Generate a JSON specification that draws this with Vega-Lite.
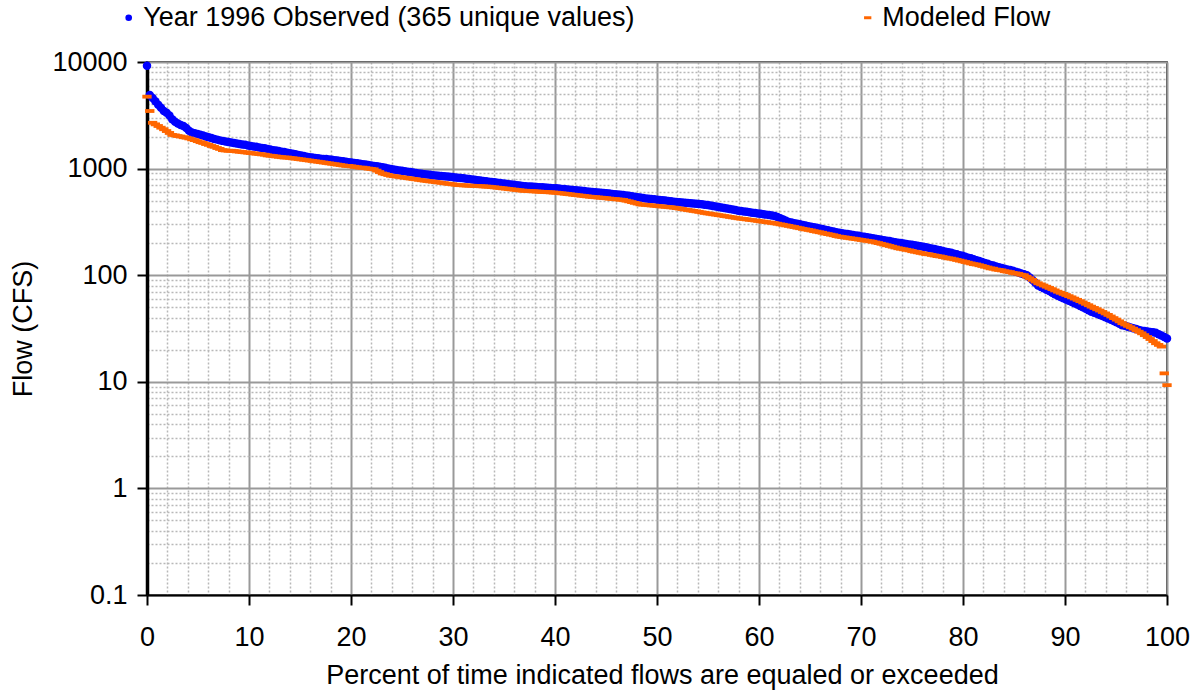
{
  "$schema": "https://vega.github.io/schema/vega-lite/v6.json",
  "width": 1020,
  "height": 533,
  "autosize": {"type": "none"},
  "padding": {"left": 147, "top": 62, "right": 29, "bottom": 99},
  "background": "#ffffff",
  "config": {
    "font": "Liberation Sans",
    "view": {"stroke": "#000000", "strokeWidth": 1.5}
  },
  "data": {"values": [
{"p":0,"o":9230,"m":4730},{"p":0.27,"o":4900,"m":3470},{"p":0.55,"o":4590,"m":2690},{"p":0.82,"o":4290,"m":2600},{"p":1.10,"o":3980,"m":2510},
{"p":1.37,"o":3720,"m":2420},{"p":1.65,"o":3470,"m":2340},{"p":1.92,"o":3350,"m":2250},{"p":2.20,"o":3150,"m":2160},{"p":2.47,"o":2900,"m":2070},
{"p":2.75,"o":2750,"m":2050},{"p":3.02,"o":2650,"m":2020},{"p":3.30,"o":2570,"m":2000},{"p":3.57,"o":2510,"m":1970},{"p":3.85,"o":2400,"m":1950},
{"p":4.12,"o":2260,"m":1920},{"p":4.40,"o":2180,"m":1880},{"p":4.67,"o":2150,"m":1850},{"p":4.95,"o":2110,"m":1810},{"p":5.22,"o":2080,"m":1770},
{"p":5.49,"o":2040,"m":1740},{"p":5.77,"o":2000,"m":1700},{"p":6.04,"o":1970,"m":1670},{"p":6.32,"o":1940,"m":1630},{"p":6.59,"o":1900,"m":1600},
{"p":6.87,"o":1870,"m":1560},{"p":7.14,"o":1840,"m":1530},{"p":7.42,"o":1820,"m":1490},{"p":7.69,"o":1800,"m":1480},{"p":7.97,"o":1780,"m":1470},
{"p":8.24,"o":1760,"m":1470},{"p":8.52,"o":1740,"m":1460},{"p":8.79,"o":1720,"m":1450},{"p":9.07,"o":1700,"m":1440},{"p":9.34,"o":1680,"m":1430},
{"p":9.62,"o":1670,"m":1420},{"p":9.89,"o":1650,"m":1410},{"p":10.16,"o":1630,"m":1400},{"p":10.44,"o":1610,"m":1390},{"p":10.71,"o":1600,"m":1380},
{"p":10.99,"o":1580,"m":1370},{"p":11.26,"o":1560,"m":1360},{"p":11.54,"o":1550,"m":1350},{"p":11.81,"o":1530,"m":1330},{"p":12.09,"o":1510,"m":1320},
{"p":12.36,"o":1490,"m":1310},{"p":12.64,"o":1480,"m":1300},{"p":12.91,"o":1460,"m":1290},{"p":13.19,"o":1440,"m":1280},{"p":13.46,"o":1430,"m":1270},
{"p":13.74,"o":1410,"m":1270},{"p":14.01,"o":1390,"m":1260},{"p":14.29,"o":1380,"m":1250},{"p":14.56,"o":1360,"m":1240},{"p":14.84,"o":1340,"m":1230},
{"p":15.11,"o":1330,"m":1220},{"p":15.38,"o":1310,"m":1210},{"p":15.66,"o":1290,"m":1200},{"p":15.93,"o":1280,"m":1190},{"p":16.21,"o":1270,"m":1180},
{"p":16.48,"o":1260,"m":1170},{"p":16.76,"o":1250,"m":1160},{"p":17.03,"o":1240,"m":1150},{"p":17.31,"o":1230,"m":1140},{"p":17.58,"o":1230,"m":1130},
{"p":17.86,"o":1220,"m":1120},{"p":18.13,"o":1210,"m":1110},{"p":18.41,"o":1200,"m":1100},{"p":18.68,"o":1190,"m":1090},{"p":18.96,"o":1180,"m":1080},
{"p":19.23,"o":1170,"m":1070},{"p":19.51,"o":1160,"m":1060},{"p":19.78,"o":1150,"m":1060},{"p":20.05,"o":1140,"m":1050},{"p":20.33,"o":1130,"m":1040},
{"p":20.60,"o":1120,"m":1030},{"p":20.88,"o":1110,"m":1020},{"p":21.15,"o":1100,"m":1020},{"p":21.43,"o":1090,"m":1010},{"p":21.70,"o":1080,"m":1000},
{"p":21.98,"o":1070,"m":993},{"p":22.25,"o":1060,"m":985},{"p":22.53,"o":1050,"m":957},{"p":22.80,"o":1040,"m":928},{"p":23.08,"o":1030,"m":900},
{"p":23.35,"o":1020,"m":886},{"p":23.63,"o":1000,"m":871},{"p":23.90,"o":990,"m":857},{"p":24.18,"o":980,"m":850},{"p":24.45,"o":971,"m":843},
{"p":24.73,"o":962,"m":836},{"p":25.00,"o":954,"m":828},{"p":25.27,"o":945,"m":821},{"p":25.55,"o":936,"m":814},{"p":25.82,"o":928,"m":807},
{"p":26.10,"o":919,"m":800},{"p":26.37,"o":910,"m":793},{"p":26.65,"o":901,"m":785},{"p":26.92,"o":893,"m":778},{"p":27.20,"o":884,"m":771},
{"p":27.47,"o":879,"m":765},{"p":27.75,"o":874,"m":759},{"p":28.02,"o":868,"m":754},{"p":28.30,"o":863,"m":748},{"p":28.57,"o":858,"m":742},
{"p":28.85,"o":853,"m":736},{"p":29.12,"o":848,"m":730},{"p":29.40,"o":843,"m":724},{"p":29.67,"o":837,"m":719},{"p":29.95,"o":832,"m":713},
{"p":30.22,"o":827,"m":707},{"p":30.49,"o":822,"m":701},{"p":30.77,"o":816,"m":699},{"p":31.04,"o":810,"m":696},{"p":31.32,"o":803,"m":694},
{"p":31.59,"o":797,"m":692},{"p":31.87,"o":791,"m":690},{"p":32.14,"o":785,"m":687},{"p":32.42,"o":779,"m":685},{"p":32.69,"o":773,"m":683},
{"p":32.97,"o":766,"m":681},{"p":33.24,"o":760,"m":678},{"p":33.52,"o":754,"m":676},{"p":33.79,"o":748,"m":671},{"p":34.07,"o":743,"m":667},
{"p":34.34,"o":737,"m":662},{"p":34.62,"o":732,"m":658},{"p":34.89,"o":726,"m":653},{"p":35.16,"o":721,"m":649},{"p":35.44,"o":715,"m":644},
{"p":35.71,"o":709,"m":639},{"p":35.99,"o":704,"m":635},{"p":36.26,"o":698,"m":630},{"p":36.54,"o":693,"m":626},{"p":36.81,"o":687,"m":621},
{"p":37.09,"o":684,"m":619},{"p":37.36,"o":681,"m":617},{"p":37.64,"o":679,"m":614},{"p":37.91,"o":676,"m":612},{"p":38.19,"o":673,"m":610},
{"p":38.46,"o":670,"m":608},{"p":38.74,"o":667,"m":605},{"p":39.01,"o":664,"m":603},{"p":39.29,"o":662,"m":601},{"p":39.56,"o":659,"m":599},
{"p":39.84,"o":656,"m":596},{"p":40.11,"o":653,"m":594},{"p":40.38,"o":649,"m":590},{"p":40.66,"o":645,"m":586},{"p":40.93,"o":642,"m":582},
{"p":41.21,"o":638,"m":578},{"p":41.48,"o":634,"m":574},{"p":41.76,"o":630,"m":569},{"p":42.03,"o":626,"m":565},{"p":42.31,"o":622,"m":561},
{"p":42.58,"o":619,"m":557},{"p":42.86,"o":615,"m":553},{"p":43.13,"o":611,"m":549},{"p":43.41,"o":607,"m":545},{"p":43.68,"o":604,"m":542},
{"p":43.96,"o":600,"m":539},{"p":44.23,"o":597,"m":536},{"p":44.51,"o":593,"m":533},{"p":44.78,"o":590,"m":530},{"p":45.05,"o":586,"m":527},
{"p":45.33,"o":583,"m":523},{"p":45.60,"o":579,"m":520},{"p":45.88,"o":576,"m":517},{"p":46.15,"o":572,"m":514},{"p":46.43,"o":569,"m":511},
{"p":46.70,"o":565,"m":508},{"p":46.98,"o":560,"m":500},{"p":47.25,"o":555,"m":493},{"p":47.53,"o":550,"m":485},{"p":47.80,"o":545,"m":477},
{"p":48.08,"o":540,"m":470},{"p":48.35,"o":535,"m":462},{"p":48.63,"o":530,"m":459},{"p":48.90,"o":525,"m":457},{"p":49.18,"o":522,"m":454},
{"p":49.45,"o":518,"m":451},{"p":49.73,"o":515,"m":449},{"p":50.00,"o":511,"m":446},{"p":50.27,"o":508,"m":443},{"p":50.55,"o":504,"m":441},
{"p":50.82,"o":501,"m":438},{"p":51.10,"o":497,"m":435},{"p":51.37,"o":494,"m":433},{"p":51.65,"o":490,"m":430},{"p":51.92,"o":487,"m":426},
{"p":52.20,"o":484,"m":422},{"p":52.47,"o":482,"m":418},{"p":52.75,"o":479,"m":413},{"p":53.02,"o":476,"m":409},{"p":53.30,"o":473,"m":405},
{"p":53.57,"o":470,"m":401},{"p":53.85,"o":467,"m":397},{"p":54.12,"o":465,"m":393},{"p":54.40,"o":462,"m":388},{"p":54.67,"o":459,"m":384},
{"p":54.95,"o":456,"m":380},{"p":55.22,"o":451,"m":377},{"p":55.49,"o":446,"m":373},{"p":55.77,"o":442,"m":370},{"p":56.04,"o":437,"m":366},
{"p":56.32,"o":432,"m":363},{"p":56.59,"o":427,"m":359},{"p":56.87,"o":422,"m":356},{"p":57.14,"o":417,"m":352},{"p":57.42,"o":413,"m":349},
{"p":57.69,"o":408,"m":345},{"p":57.97,"o":403,"m":342},{"p":58.24,"o":400,"m":339},{"p":58.52,"o":396,"m":337},{"p":58.79,"o":393,"m":334},
{"p":59.07,"o":390,"m":331},{"p":59.34,"o":386,"m":329},{"p":59.62,"o":383,"m":326},{"p":59.89,"o":380,"m":323},{"p":60.16,"o":377,"m":320},
{"p":60.44,"o":373,"m":318},{"p":60.71,"o":370,"m":315},{"p":60.99,"o":367,"m":312},{"p":61.26,"o":363,"m":310},{"p":61.54,"o":360,"m":307},
{"p":61.81,"o":351,"m":304},{"p":62.09,"o":342,"m":300},{"p":62.36,"o":334,"m":297},{"p":62.64,"o":325,"m":293},{"p":62.91,"o":316,"m":290},
{"p":63.19,"o":312,"m":286},{"p":63.46,"o":308,"m":283},{"p":63.74,"o":304,"m":279},{"p":64.01,"o":300,"m":276},{"p":64.29,"o":296,"m":272},
{"p":64.56,"o":292,"m":269},{"p":64.84,"o":288,"m":266},{"p":65.11,"o":285,"m":263},{"p":65.38,"o":281,"m":259},{"p":65.66,"o":278,"m":256},
{"p":65.93,"o":274,"m":253},{"p":66.21,"o":271,"m":250},{"p":66.48,"o":267,"m":246},{"p":66.76,"o":264,"m":243},{"p":67.03,"o":260,"m":240},
{"p":67.31,"o":257,"m":237},{"p":67.58,"o":253,"m":233},{"p":67.86,"o":250,"m":230},{"p":68.13,"o":248,"m":228},{"p":68.41,"o":245,"m":226},
{"p":68.68,"o":243,"m":224},{"p":68.96,"o":241,"m":222},{"p":69.23,"o":238,"m":220},{"p":69.51,"o":236,"m":218},{"p":69.78,"o":234,"m":216},
{"p":70.05,"o":231,"m":214},{"p":70.33,"o":229,"m":212},{"p":70.60,"o":227,"m":210},{"p":70.88,"o":224,"m":208},{"p":71.15,"o":222,"m":206},
{"p":71.43,"o":220,"m":203},{"p":71.70,"o":218,"m":200},{"p":71.98,"o":215,"m":197},{"p":72.25,"o":213,"m":194},{"p":72.53,"o":211,"m":191},
{"p":72.80,"o":209,"m":188},{"p":73.08,"o":206,"m":185},{"p":73.35,"o":204,"m":182},{"p":73.63,"o":202,"m":179},{"p":73.90,"o":200,"m":177},
{"p":74.18,"o":198,"m":175},{"p":74.45,"o":196,"m":173},{"p":74.73,"o":194,"m":171},{"p":75.00,"o":193,"m":168},{"p":75.27,"o":191,"m":166},
{"p":75.55,"o":189,"m":164},{"p":75.82,"o":187,"m":162},{"p":76.10,"o":185,"m":160},{"p":76.37,"o":183,"m":158},{"p":76.65,"o":180,"m":157},
{"p":76.92,"o":178,"m":155},{"p":77.20,"o":176,"m":153},{"p":77.47,"o":173,"m":151},{"p":77.75,"o":171,"m":150},{"p":78.02,"o":169,"m":148},
{"p":78.30,"o":166,"m":146},{"p":78.57,"o":164,"m":144},{"p":78.85,"o":162,"m":143},{"p":79.12,"o":159,"m":141},{"p":79.40,"o":157,"m":139},
{"p":79.67,"o":154,"m":137},{"p":79.95,"o":152,"m":135},{"p":80.22,"o":149,"m":133},{"p":80.49,"o":146,"m":131},{"p":80.77,"o":144,"m":129},
{"p":81.04,"o":141,"m":127},{"p":81.32,"o":138,"m":126},{"p":81.59,"o":136,"m":124},{"p":81.87,"o":133,"m":122},{"p":82.14,"o":130,"m":120},
{"p":82.42,"o":128,"m":118},{"p":82.69,"o":125,"m":116},{"p":82.97,"o":123,"m":115},{"p":83.24,"o":121,"m":113},{"p":83.52,"o":119,"m":112},
{"p":83.79,"o":117,"m":111},{"p":84.07,"o":115,"m":109},{"p":84.34,"o":113,"m":108},{"p":84.62,"o":112,"m":107},{"p":84.89,"o":110,"m":105},
{"p":85.16,"o":108,"m":104},{"p":85.44,"o":106,"m":103},{"p":85.71,"o":104,"m":101},{"p":85.99,"o":102,"m":100},{"p":86.26,"o":100,"m":96.8},
{"p":86.54,"o":95,"m":93.6},{"p":86.81,"o":90,"m":90.4},{"p":87.09,"o":85,"m":87.2},{"p":87.36,"o":80,"m":84},{"p":87.64,"o":77.7,"m":82},
{"p":87.91,"o":75.4,"m":80},{"p":88.19,"o":73.1,"m":78},{"p":88.46,"o":70.9,"m":76},{"p":88.74,"o":68.6,"m":74},{"p":89.01,"o":66.3,"m":72},
{"p":89.29,"o":64,"m":70},{"p":89.56,"o":62.4,"m":68.4},{"p":89.84,"o":60.8,"m":66.8},{"p":90.11,"o":59.3,"m":65.2},{"p":90.38,"o":57.7,"m":63.6},
{"p":90.66,"o":56.1,"m":62},{"p":90.93,"o":54.5,"m":60.3},{"p":91.21,"o":53,"m":58.7},{"p":91.48,"o":51.5,"m":57.1},{"p":91.76,"o":50,"m":55.5},
{"p":92.03,"o":48.5,"m":53.9},{"p":92.31,"o":47,"m":52.3},{"p":92.58,"o":45.5,"m":50.7},{"p":92.86,"o":44.5,"m":49.3},{"p":93.13,"o":43.4,"m":47.9},
{"p":93.41,"o":42.4,"m":46.6},{"p":93.68,"o":41.4,"m":45.2},{"p":93.96,"o":40.3,"m":43.8},{"p":94.23,"o":39.3,"m":42.4},{"p":94.51,"o":38.2,"m":41},
{"p":94.78,"o":37.2,"m":39.6},{"p":95.05,"o":36.1,"m":38.3},{"p":95.33,"o":35.1,"m":36.9},{"p":95.60,"o":34,"m":35.5},{"p":95.88,"o":33.5,"m":34.5},
{"p":96.15,"o":32.9,"m":33.5},{"p":96.43,"o":32.4,"m":32.5},{"p":96.70,"o":31.8,"m":31.5},{"p":96.98,"o":31.3,"m":30.5},{"p":97.25,"o":30.7,"m":29.5},
{"p":97.53,"o":30.2,"m":28.5},{"p":97.80,"o":29.9,"m":27.4},{"p":98.08,"o":29.7,"m":26.3},{"p":98.35,"o":29.4,"m":25.2},{"p":98.63,"o":29.2,"m":24.1},
{"p":98.90,"o":28.9,"m":23},{"p":99.18,"o":28.0,"m":22.2},{"p":99.45,"o":27.2,"m":21.4},{"p":99.73,"o":26.3,"m":12},{"p":100,"o":25.5,"m":9.3}
  ]},
  "encoding": {
    "x": {
      "field": "p",
      "type": "quantitative",
      "scale": {"domain": [0, 100], "nice": false, "zero": false},
      "axis": {
        "values": [0,2,4,6,8,10,12,14,16,18,20,22,24,26,28,30,32,34,36,38,40,42,44,46,48,50,52,54,56,58,60,62,64,66,68,70,72,74,76,78,80,82,84,86,88,90,92,94,96,98,100],
        "title": "Percent of time indicated flows are equaled or exceeded",
        "labelExpr": "datum.value % 10 === 0 ? datum.label : ''",
        "labelOverlap": false,
        "labelFlush": false,
        "grid": true,
        "gridColor": {"condition": {"test": "datum.value % 10 === 0", "value": "#999999"}, "value": "#b8b8b8"},
        "gridDash": {"condition": {"test": "datum.value % 10 === 0", "value": []}, "value": [2, 2]},
        "gridWidth": {"condition": {"test": "datum.value % 10 === 0", "value": 2}, "value": 1.5},
        "tickOpacity": {"condition": {"test": "datum.value % 10 === 0", "value": 1}, "value": 0},
        "tickSize": 10,
        "tickWidth": 2,
        "tickColor": "#000000",
        "domainColor": "#000000",
        "domainWidth": 2,
        "labelFontSize": 27,
        "labelColor": "#000000",
        "labelBaseline": "alphabetic",
        "labelPadding": 40,
        "titleFontSize": 27,
        "titleFontWeight": "normal",
        "titleColor": "#000000",
        "titleX": 515,
        "titleY": 88,
        "titleBaseline": "alphabetic"
      }
    }
  },
  "layer": [
    {
      "mark": {"type": "point", "filled": true, "size": 72, "opacity": 1, "strokeWidth": 0},
      "encoding": {
        "y": {
          "field": "o",
          "type": "quantitative",
          "scale": {"type": "log", "domain": [0.1, 10000], "nice": false},
          "axis": {
            "values": [0.1,0.2,0.3,0.4,0.5,0.6,0.7,0.8,0.9,1,2,3,4,5,6,7,8,9,10,20,30,40,50,60,70,80,90,100,200,300,400,500,600,700,800,900,1000,2000,3000,4000,5000,6000,7000,8000,9000,10000],
            "title": "Flow (CFS)",
            "labelExpr": "indexof([0.1,1,10,100,1000,10000], datum.value) >= 0 ? format(datum.value, '~g') : ''",
            "labelOverlap": false,
            "labelFlush": false,
            "grid": true,
            "gridColor": {"condition": {"test": "indexof([0.1,1,10,100,1000,10000], datum.value) >= 0", "value": "#999999"}, "value": "#b8b8b8"},
            "gridDash": {"condition": {"test": "indexof([0.1,1,10,100,1000,10000], datum.value) >= 0", "value": []}, "value": [2, 2]},
            "gridWidth": {"condition": {"test": "indexof([0.1,1,10,100,1000,10000], datum.value) >= 0", "value": 2}, "value": 1.5},
            "tickOpacity": {"condition": {"test": "indexof([0.1,1,10,100,1000,10000], datum.value) >= 0", "value": 1}, "value": 0},
            "tickSize": 10,
            "tickWidth": 2,
            "tickColor": "#000000",
            "domainColor": "#000000",
            "domainWidth": 3.5,
            "labelFontSize": 27,
            "labelColor": "#000000",
            "labelPadding": 10,
            "titleFontSize": 27,
            "titleFontWeight": "normal",
            "titleColor": "#000000",
            "titleX": -116,
            "titleY": 266.5,
            "titleBaseline": "alphabetic"
          }
        },
        "color": {
          "datum": "Year 1996 Observed (365 unique values)",
          "scale": {"domain": ["Year 1996 Observed (365 unique values)", "Modeled Flow"], "range": ["#0000ff", "#ff6600"]},
          "legend": {
            "orient": "none",
            "legendX": -31.8,
            "legendY": -58,
            "direction": "horizontal",
            "title": null,
            "padding": 0,
            "labelFontSize": 27,
            "labelColor": "#000000",
            "labelLimit": 700,
            "labelOffset": 1,
            "symbolSize": 44,
            "symbolOpacity": 1,
            "symbolStrokeWidth": 0,
            "columnPadding": 219
          }
        },
        "shape": {
          "datum": "Year 1996 Observed (365 unique values)",
          "scale": {"domain": ["Year 1996 Observed (365 unique values)", "Modeled Flow"], "range": ["circle", "M-1.1,-0.45H1.1V0.45H-1.1Z"]}
        }
      }
    },
    {
      "mark": {"type": "point", "filled": true, "size": 72, "opacity": 1, "strokeWidth": 0},
      "encoding": {
        "y": {"field": "m", "type": "quantitative", "title": "Flow (CFS)"},
        "color": {"datum": "Modeled Flow"},
        "shape": {"datum": "Modeled Flow"}
      }
    }
  ]
}
